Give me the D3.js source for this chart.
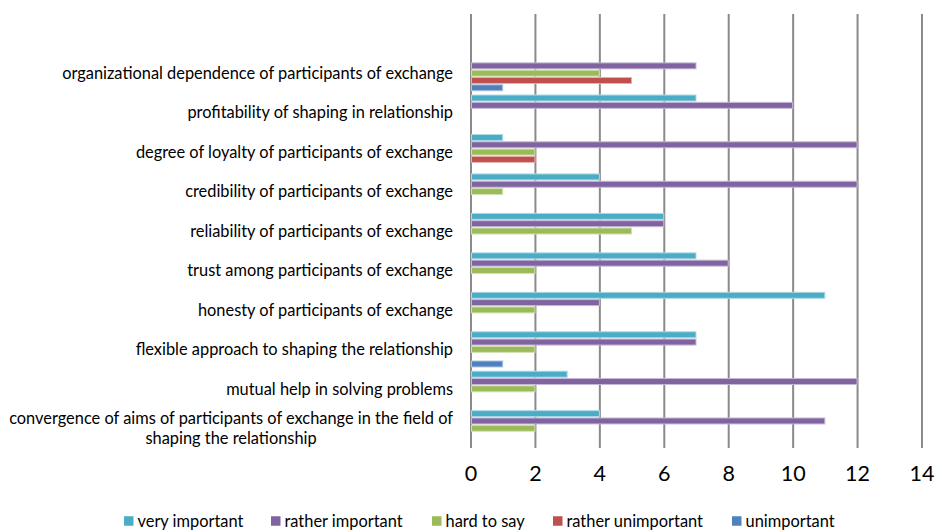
<!DOCTYPE html>
<html><head><meta charset="utf-8">
<script src="https://cdn.jsdelivr.net/npm/d3@7"></script>
<style>body{margin:0;background:#fff}svg{display:block}</style>
</head><body>
<svg id="c" width="935" height="531"></svg>
<script>
// categories top to bottom (first is an empty category as in the original)
const categories = ["",
 "organizational dependence of participants of exchange",
 "profitability of shaping in relationship",
 "degree of loyalty of participants of exchange",
 "credibility of participants of exchange",
 "reliability of participants of exchange",
 "trust among participants of exchange",
 "honesty of participants of exchange",
 "flexible approach to shaping the relationship",
 "mutual help in solving problems",
 "convergence of aims of participants of exchange in the field of\nshaping the relationship"];
const seriesNames = ["very important","rather important","hard to say","rather unimportant","unimportant"];
const veryImportant     = [null, 0, 7, 1, 4, 6, 7, 11, 7, 3, 4];
const ratherImportant   = [null, 7, 10, 12, 12, 6, 8, 4, 7, 12, 11];
const hardToSay         = [null, 4, 0, 2, 1, 5, 2, 2, 2, 2, 2];
const ratherUnimportant = [null, 5, 0, 2, 0, 0, 0, 0, 0, 0, 0];
const unimportant       = [null, 1, 0, 0, 0, 0, 0, 0, 1, 0, 0];
const seriesValues = [veryImportant, ratherImportant, hardToSay, ratherUnimportant, unimportant];
const colors = ["#4BACC6","#8064A2","#9BBB59","#C0504D","#4F81BD"];
const xTicks = [0,2,4,6,8,10,12,14];

const svg = d3.select("#c");
const FONT = "Lato, 'Open Sans', sans-serif";
const plot = {left:470.5, right:921.5, top:14, bottom:448};

const x = d3.scaleLinear().domain([0,14]).range([plot.left, plot.right]);
const y = d3.scaleBand().domain(categories.map((c,i)=>i)).range([plot.top, plot.bottom]).padding(0);
const yInner = d3.scaleBand().domain(d3.range(seriesNames.length)).range([0, y.bandwidth()]).paddingInner(0.18).paddingOuter(0.29);

function fitSize(text, target, family){
  const t = svg.append("text").attr("font-family", family).attr("font-size", 100).text(text);
  const w = t.node().getComputedTextLength(); t.remove();
  return 100*target/w;
}
const labelSize = fitSize("organizational dependence of participants of exchange", 391, FONT);
const legendSize = fitSize("very important", 106, FONT);

// gridlines + axis labels
const xAxis = d3.axisBottom(x).tickValues(xTicks).tickSize(-(plot.bottom-plot.top)).tickPadding(10).tickFormat(d3.format("d"));
const gx = svg.append("g").attr("transform",`translate(0,${plot.bottom})`).call(xAxis);
gx.select(".domain").remove();
gx.selectAll(".tick line").attr("stroke","#8a8a8a").attr("stroke-width",2);
gx.selectAll(".tick text").attr("font-family",FONT).attr("font-size",21.5).attr("fill","#000").attr("dy","1.05em");

// bars
seriesValues.forEach((vals, s) => {
  svg.append("g").selectAll("rect").data(vals.map((v,i)=>({v,i})).filter(d=>d.v)).join("rect")
    .attr("x", x(0)+1)
    .attr("y", d => y(d.i) + yInner(s))
    .attr("width", d => x(d.v) - x(0) - 1)
    .attr("height", yInner.bandwidth())
    .attr("fill", colors[s])
    .attr("stroke", d3.interpolateRgb(colors[s], "#ffffff")(0.55))
    .attr("stroke-width", 1);
});

// category labels
const labelX = 453;
categories.forEach((c,i) => {
  if(!c) return;
  const lines = c.split("\n");
  const cy = y(i) + y.bandwidth()/2;
  const lh = labelSize*1.2;
  if(lines.length === 1){
    svg.append("text").attr("x",labelX).attr("y",cy).attr("dy","0.35em")
      .attr("text-anchor","end").attr("font-family",FONT).attr("font-size",labelSize).attr("fill","#000").text(c);
  } else {
    const t0 = svg.append("text").attr("font-family",FONT).attr("font-size",labelSize).text(lines[0]);
    const w0 = t0.node().getComputedTextLength(); t0.remove();
    const cx = labelX - w0/2;
    lines.forEach((ln,k)=>{
      svg.append("text").attr("x",cx).attr("y", cy + (k-(lines.length-1)/2)*lh).attr("dy","0.35em")
        .attr("text-anchor","middle").attr("font-family",FONT).attr("font-size",labelSize).attr("fill","#000").text(ln);
    });
  }
});

// legend
const legendY = 521;
const legendStarts = [124, 271, 432, 553, 732];
const lg = svg.append("g");
seriesNames.forEach((n,s)=>{
  const g = lg.append("g").attr("transform",`translate(${legendStarts[s]},${legendY})`);
  g.append("rect").attr("x",0).attr("y",-4.75).attr("width",9.5).attr("height",9.5).attr("fill",colors[s]);
  g.append("text").attr("x",13.5).attr("y",0).attr("dy","0.35em").attr("font-family",FONT).attr("font-size",legendSize).attr("fill","#000").text(n);
});
</script>
</body></html>
